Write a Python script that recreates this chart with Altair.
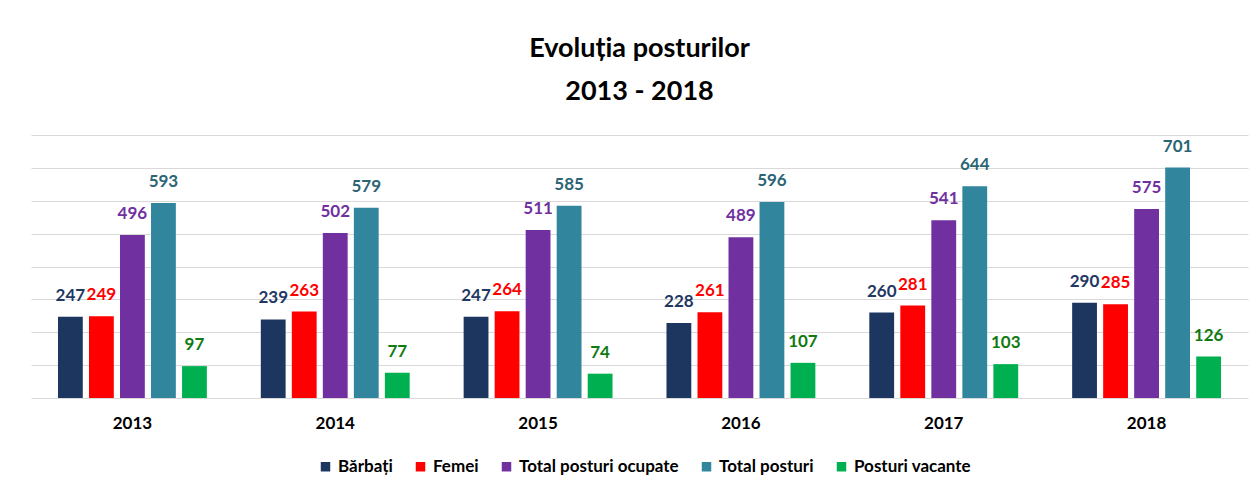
import altair as alt
import pandas as pd

years = ["2013", "2014", "2015", "2016", "2017", "2018"]
series = ["Bărbați", "Femei", "Total posturi ocupate", "Total posturi", "Posturi vacante"]
barbati = [247, 239, 247, 228, 260, 290]
femei = [249, 263, 264, 261, 281, 285]
ocupate = [496, 502, 511, 489, 541, 575]
total = [593, 579, 585, 596, 644, 701]
vacante = [97, 77, 74, 107, 103, 126]

bar_colors = ["#1C3660", "#FF0000", "#7030A0", "#31859C", "#00B050"]
label_colors = ["#1F3864", "#FF0000", "#7030A0", "#2B6575", "#117A11"]

rows = []
for s, vals, lc in zip(series, [barbati, femei, ocupate, total, vacante], label_colors):
    for y, v in zip(years, vals):
        rows.append({"An": y, "Serie": s, "Valoare": v, "lc": lc})
df = pd.DataFrame(rows)

FONT = "Lato, sans-serif"

x = alt.X("An:N", sort=years, title=None,
          scale=alt.Scale(paddingInner=0.266, paddingOuter=0.133),
          axis=alt.Axis(labelAngle=0, ticks=False, domain=False, labelFont=FONT,
                        labelFontSize=17, labelFontWeight="bold", labelColor="#000000",
                        labelPadding=17))
xo = alt.XOffset("Serie:N", sort=series, scale=alt.Scale(paddingInner=0.2, paddingOuter=0))
y = alt.Y("Valoare:Q", title=None,
          scale=alt.Scale(domain=[0, 800], nice=False),
          axis=alt.Axis(values=[0, 100, 200, 300, 400, 500, 600, 700, 800], labels=False,
                        ticks=False, domain=False, gridColor="#D9D9D9", gridWidth=1.2))

bars = alt.Chart(df).mark_bar().encode(
    x=x, xOffset=xo, y=y,
    color=alt.Color("Serie:N", sort=series,
                    scale=alt.Scale(domain=series, range=bar_colors),
                    legend=alt.Legend(title=None, orient="none", direction="horizontal",
                                      legendX=286, legendY=323, labelLimit=0,
                                      symbolType="square", symbolSize=90, symbolStrokeWidth=0,
                                      labelFont=FONT, labelFontSize=17, labelFontWeight="bold",
                                      labelColor="#000000", columnPadding=19, labelOffset=4)),
)

labels = alt.Chart(df).mark_text(dy=-21, baseline="middle", font=FONT, fontSize=17,
                                 fontWeight="bold").encode(
    x=x, xOffset=xo, y=y,
    text="Valoare:Q",
    color=alt.Color("lc:N", scale=None),
)

chart = (bars + labels).properties(
    width=1217, height=263,
    title=alt.Title(["Evoluția posturilor", "2013 - 2018"], font=FONT, fontSize=27,
                    fontWeight="bold", color="#000000", anchor="middle", lineHeight=43,
                    offset=29),
    autosize=alt.AutoSizeParams(type="none"),
    padding={"left": 23, "top": 127, "right": 3, "bottom": 87},
).configure(background="white").configure_view(stroke=None, strokeWidth=0)

chart.save("out.html", embed_options={"renderer": "svg", "actions": False})
